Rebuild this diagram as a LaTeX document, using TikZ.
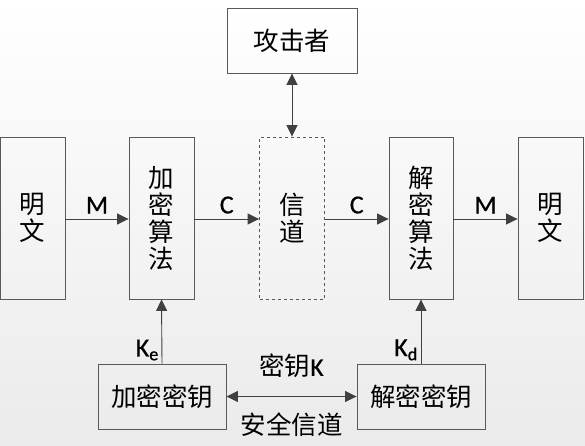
\documentclass[tikz,border=0pt]{standalone}
\usepackage{fontspec}
\setmainfont{Carlito}[FakeBold=0.6]
\newfontfamily\cjk{Noto Sans CJK SC}
\usetikzlibrary{arrows.meta}
\tikzset{
  box/.style={draw=black!65, line width=0.9pt, fill=none, inner sep=0pt, font=\cjk\fontsize{25.5}{27}\selectfont, align=center},
  arr/.style={draw=black!75, line width=0.9pt, -{Triangle[length=11.5pt,width=11pt]}},
  darr/.style={draw=black!75, line width=0.9pt, {Triangle[length=11.5pt,width=11pt]}-{Triangle[length=11.5pt,width=11pt]}},
  lbl/.style={font=\fontsize{26}{28}\selectfont, inner sep=1pt},
  clbl/.style={font=\cjk\fontsize{25.5}{27}\selectfont, inner sep=1pt}
}
\begin{document}
\begin{tikzpicture}[x=1pt,y=-1pt]
\shade[top color=white, bottom color=black!8] (0,0) rectangle (585,446);
\useasboundingbox (0,0) rectangle (585,446);
% boxes
\node[box, minimum width=65, minimum height=162] (p1) at (32.5,218) {明\\文};
\node[box, minimum width=65, minimum height=162] (enc) at (161.5,218) {加\\密\\算\\法};
\node[box, minimum width=130, minimum height=65] (att) at (292,40.5) {攻击者};
\node[box, dashed, minimum width=65, minimum height=162] (ch) at (292,218) {信\\道};
\node[box, minimum width=64, minimum height=162] (dec) at (421,218) {解\\密\\算\\法};
\node[box, minimum width=65, minimum height=162] (p2) at (550.5,218) {明\\文};
\node[box, minimum width=128, minimum height=65] (ek) at (162,396.5) {加密密钥};
\node[box, minimum width=128, minimum height=65] (dk) at (421,396.5) {解密密钥};
% horizontal arrows
\draw[arr] (p1.east |- 0,219) -- node[lbl, above=4pt] {M} (enc.west |- 0,219);
\draw[arr] (enc.east |- 0,219) -- node[lbl, above=4pt] {C} (ch.west |- 0,219);
\draw[arr] (ch.east |- 0,219) -- node[lbl, above=4pt] {C} (dec.west |- 0,219);
\draw[arr] (dec.east |- 0,219) -- node[lbl, above=4pt] {M} (p2.west |- 0,219);
% attacker
\draw[darr] (att.south) -- (ch.north);
% keys
\draw[arr] (ek.north) -- (enc.south);
\draw[arr] (dk.north) -- (dec.south);
\node[lbl, anchor=south east] (ke) at ([xshift=-2pt,yshift=2pt]ek.north) {K\textsubscript{e}};
\node[lbl, anchor=south east] (kd) at ([xshift=-2pt,yshift=2pt]dk.north) {K\textsubscript{d}};
\draw[darr] (ek.east) -- node[clbl, above=17pt] {密钥\fontspec{Carlito}[FakeBold=0.6]K} node[clbl, below=15pt] {安全信道} (dk.west);
\end{tikzpicture}
\end{document}
